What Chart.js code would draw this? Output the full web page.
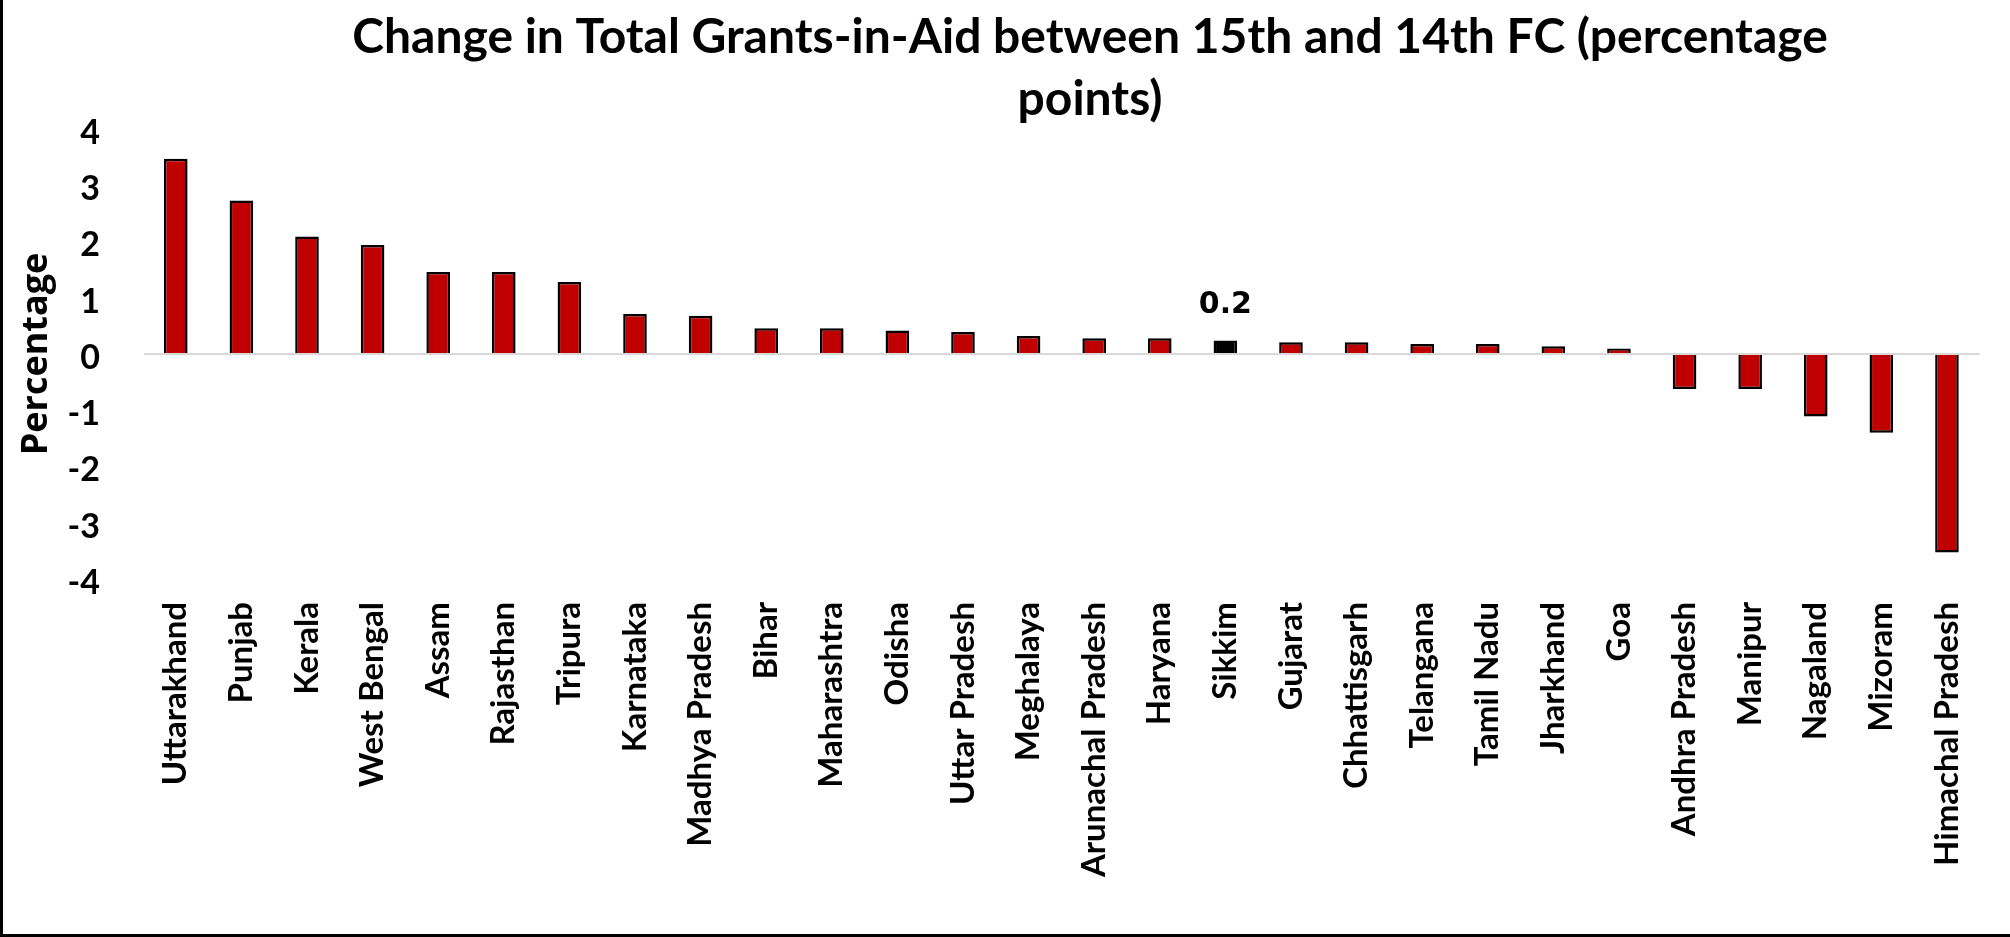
<!DOCTYPE html>
<html>
<head>
<meta charset="utf-8">
<script src="https://cdn.jsdelivr.net/npm/chart.js@4/dist/chart.umd.min.js"></script>
<style>
  html, body { margin: 0; padding: 0; background: #ffffff; }
  #wrap { position: relative; width: 2010px; height: 937px; }
  #frame {
    position: absolute; left: 0; top: 0; width: 2010px; height: 937px;
    box-sizing: border-box; border-left: 3px solid #000; border-bottom: 3px solid #000;
    pointer-events: none;
  }
  canvas { display: block; }
</style>
</head>
<body>
<div id="wrap">
  <canvas id="chart" width="2010" height="937"></canvas>
  <div id="frame"></div>
</div>
<script>
// States, ordered from largest gain to largest fall
const states = [
  'Uttarakhand', 'Punjab', 'Kerala', 'West Bengal', 'Assam', 'Rajasthan', 'Tripura',
  'Karnataka', 'Madhya Pradesh', 'Bihar', 'Maharashtra', 'Odisha', 'Uttar Pradesh',
  'Meghalaya', 'Arunachal Pradesh', 'Haryana', 'Sikkim', 'Gujarat', 'Chhattisgarh',
  'Telangana', 'Tamil Nadu', 'Jharkhand', 'Goa', 'Andhra Pradesh', 'Manipur',
  'Nagaland', 'Mizoram', 'Himachal Pradesh'
];

// Change in share of total grants-in-aid (percentage points)
const change = [
  3.47, 2.73, 2.09, 1.94, 1.46, 1.46, 1.28,
  0.71, 0.68, 0.46, 0.46, 0.42, 0.39,
  0.32, 0.28, 0.28, 0.24, 0.21, 0.21,
  0.18, 0.18, 0.14, 0.10, -0.62, -0.62,
  -1.11, -1.40, -3.53
];

// States drawn in black and given a value label
const highlighted = ['Sikkim'];

// Value axis range and step
const yMin = -4;
const yMax = 4;
const yStep = 1;

const titleLines = [
  'Change in Total Grants-in-Aid between 15th and 14th FC (percentage',
  'points)'
];

const RED = '#C00000';
const BLACK = '#000000';
const AXIS_GREY = '#D9D9D9';

// Two-line chart title
const titleBlock = {
  id: 'titleBlock',
  afterDraw(chart) {
    const ctx = chart.ctx;
    ctx.save();
    ctx.fillStyle = BLACK;
    ctx.font = 'bold 48px Lato, "Open Sans", sans-serif';
    ctx.textAlign = 'center';
    ctx.textBaseline = 'alphabetic';
    const cx = 1090;
    titleLines.forEach((line, i) => ctx.fillText(line, cx, 53 + i * 62));
    ctx.restore();
  }
};

// Value label above highlighted bars
const valueLabels = {
  id: 'valueLabels',
  afterDatasetsDraw(chart) {
    const ctx = chart.ctx;
    const meta = chart.getDatasetMeta(0);
    ctx.save();
    ctx.fillStyle = BLACK;
    ctx.font = 'bold 30px "DejaVu Sans", sans-serif';
    ctx.textAlign = 'center';
    ctx.textBaseline = 'bottom';
    meta.data.forEach((bar, i) => {
      if (!highlighted.includes(states[i])) return;
      const v = change[i];
      ctx.fillText(v.toFixed(1), bar.x, bar.y - 20);
    });
    ctx.restore();
  }
};

new Chart(document.getElementById('chart'), {
  type: 'bar',
  data: {
    labels: states,
    datasets: [{
      data: change,
      backgroundColor: states.map(s => highlighted.includes(s) ? BLACK : RED),
      borderColor: BLACK,
      borderWidth: 2.5,
      categoryPercentage: 1,
      barPercentage: 0.36
    }]
  },
  options: {
    responsive: false,
    animation: false,
    devicePixelRatio: 1,
    layout: { padding: { top: 129, right: 25, bottom: 0, left: 0 } },
    plugins: {
      legend: { display: false },
      title: { display: false },
      tooltip: { enabled: false }
    },
    scales: {
      x: {
        offset: true,
        grid: { display: false, drawTicks: false },
        border: { display: false },
        ticks: {
          color: BLACK,
          font: { family: 'Lato, "Open Sans", sans-serif', weight: 'bold', size: 33 },
          minRotation: 90,
          maxRotation: 90,
          autoSkip: false,
          padding: 23
        },
        afterFit(scale) { scale.height = 358; }
      },
      y: {
        min: yMin,
        max: yMax,
        ticks: {
          stepSize: yStep,
          color: BLACK,
          font: { family: 'Lato, "Open Sans", sans-serif', weight: 'bold', size: 34 },
          padding: 43,
          labelOffset: 4,
          callback: v => String(v)
        },
        grid: {
          drawTicks: false,
          z: 1,
          lineWidth: 2,
          color: ctx => (ctx.tick && ctx.tick.value === 0) ? AXIS_GREY : 'rgba(0,0,0,0)'
        },
        border: { display: true, color: AXIS_GREY, width: 2 },
        title: {
          display: true,
          text: 'Percentage',
          color: BLACK,
          font: { family: '"Open Sans", sans-serif', weight: 'bold', size: 36 },
          padding: { top: 15, bottom: 0 }
        },
        afterFit(scale) { scale.width = 143; }
      }
    }
  },
  plugins: [titleBlock, valueLabels]
});
</script>
</body>
</html>
